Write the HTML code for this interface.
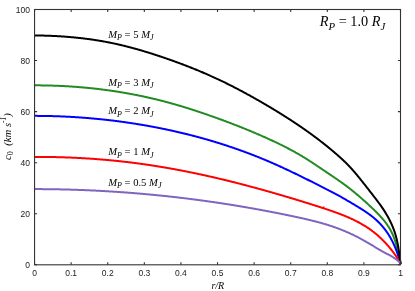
<!DOCTYPE html>
<html><head><meta charset="utf-8"><style>
html,body{margin:0;padding:0;background:#fff;}
body{width:415px;height:291px;overflow:hidden;font-family:"Liberation Sans",sans-serif;}
#w{position:absolute;left:0;top:0;width:415px;height:291px;will-change:transform;}
svg{display:block}
text{white-space:pre}
</style></head><body><div id="w">
<svg width="415" height="291" viewBox="0 0 415 291">
<defs><clipPath id="cp"><rect x="34.349999999999994" y="9.5" width="368.95" height="255.9"/></clipPath></defs><g clip-path="url(#cp)">
<path d="M34.50,85.35 L34.80,85.35 L35.36,85.35 L35.93,85.35 L36.50,85.35 L37.06,85.35 L37.63,85.35 L38.20,85.36 L38.76,85.36 L39.33,85.36 L39.89,85.37 L40.46,85.37 L41.03,85.38 L41.59,85.39 L42.16,85.39 L42.72,85.40 L43.29,85.41 L43.86,85.42 L44.42,85.43 L44.99,85.43 L45.56,85.45 L46.12,85.46 L46.69,85.47 L47.25,85.48 L47.82,85.49 L48.39,85.51 L48.95,85.52 L49.52,85.53 L50.08,85.55 L50.65,85.56 L51.22,85.58 L51.78,85.60 L52.35,85.61 L52.91,85.63 L53.48,85.65 L54.04,85.67 L54.61,85.69 L55.18,85.71 L55.74,85.73 L56.31,85.75 L56.87,85.77 L57.44,85.79 L58.00,85.82 L58.57,85.84 L59.14,85.87 L59.70,85.89 L60.27,85.92 L60.83,85.94 L61.40,85.97 L61.96,86.00 L62.53,86.02 L63.09,86.05 L63.66,86.08 L64.22,86.11 L64.79,86.14 L65.35,86.17 L65.92,86.20 L66.49,86.24 L67.05,86.27 L67.62,86.30 L68.18,86.34 L68.75,86.37 L69.31,86.41 L69.88,86.44 L70.44,86.48 L71.00,86.51 L71.57,86.55 L72.13,86.59 L72.70,86.63 L73.26,86.67 L73.83,86.71 L74.39,86.75 L74.96,86.79 L75.52,86.83 L76.09,86.87 L76.65,86.91 L77.21,86.96 L77.78,87.00 L78.34,87.05 L78.91,87.09 L79.47,87.14 L80.03,87.18 L80.60,87.23 L81.16,87.28 L81.73,87.33 L82.29,87.38 L82.85,87.43 L83.42,87.48 L83.98,87.53 L84.54,87.58 L85.11,87.63 L85.67,87.68 L86.23,87.74 L86.80,87.79 L87.36,87.84 L87.92,87.90 L88.49,87.95 L89.05,88.01 L89.61,88.07 L90.18,88.13 L90.74,88.18 L91.30,88.24 L91.86,88.30 L92.43,88.36 L92.99,88.42 L93.55,88.48 L94.11,88.54 L94.68,88.61 L95.24,88.67 L95.80,88.73 L96.36,88.80 L96.92,88.86 L97.49,88.93 L98.05,88.99 L98.61,89.06 L99.17,89.13 L99.73,89.20 L100.29,89.26 L100.86,89.33 L101.42,89.40 L101.98,89.47 L102.54,89.55 L103.10,89.62 L103.66,89.69 L104.22,89.76 L104.78,89.84 L105.34,89.91 L105.90,89.98 L106.47,90.06 L107.03,90.14 L107.59,90.21 L108.15,90.29 L108.71,90.37 L109.27,90.45 L109.83,90.53 L110.39,90.61 L110.95,90.69 L111.51,90.77 L112.07,90.85 L112.62,90.93 L113.18,91.01 L113.74,91.10 L114.30,91.18 L114.86,91.27 L115.42,91.35 L115.98,91.44 L116.54,91.53 L117.10,91.61 L117.66,91.70 L118.21,91.79 L118.77,91.88 L119.33,91.97 L119.89,92.06 L120.45,92.15 L121.00,92.24 L121.56,92.34 L122.12,92.43 L122.68,92.52 L123.23,92.62 L123.79,92.71 L124.35,92.81 L124.91,92.90 L125.46,93.00 L126.02,93.10 L126.58,93.20 L127.13,93.30 L127.69,93.40 L128.25,93.50 L128.80,93.60 L129.36,93.70 L129.91,93.80 L130.47,93.90 L131.03,94.01 L131.58,94.11 L132.14,94.22 L132.69,94.32 L133.25,94.43 L133.80,94.53 L134.36,94.64 L134.91,94.75 L135.47,94.86 L136.02,94.97 L136.58,95.08 L137.13,95.19 L137.69,95.30 L138.24,95.41 L138.79,95.52 L139.35,95.64 L139.90,95.75 L140.46,95.86 L141.01,95.98 L141.56,96.09 L142.12,96.21 L142.67,96.33 L143.22,96.45 L143.77,96.56 L144.33,96.68 L144.88,96.80 L145.43,96.92 L145.98,97.04 L146.54,97.17 L147.09,97.29 L147.64,97.41 L148.19,97.53 L148.74,97.66 L149.29,97.78 L149.84,97.91 L150.40,98.04 L150.95,98.16 L151.50,98.29 L152.05,98.42 L152.60,98.55 L153.15,98.68 L153.70,98.81 L154.25,98.94 L154.80,99.07 L155.35,99.20 L155.90,99.33 L156.45,99.47 L157.00,99.60 L157.55,99.74 L158.09,99.87 L158.64,100.01 L159.19,100.15 L159.74,100.28 L160.29,100.42 L160.84,100.56 L161.38,100.70 L161.93,100.84 L162.48,100.98 L163.03,101.12 L163.57,101.26 L164.12,101.41 L164.67,101.55 L165.21,101.69 L165.76,101.84 L166.31,101.99 L166.85,102.13 L167.40,102.28 L167.95,102.43 L168.49,102.57 L169.04,102.72 L169.58,102.87 L170.13,103.02 L170.67,103.17 L171.22,103.32 L171.76,103.48 L172.31,103.63 L172.85,103.78 L173.39,103.94 L173.94,104.09 L174.48,104.24 L175.03,104.40 L175.57,104.56 L176.11,104.71 L176.66,104.87 L177.20,105.03 L177.74,105.19 L178.29,105.35 L178.83,105.51 L179.37,105.67 L179.91,105.83 L180.46,105.99 L181.00,106.15 L181.54,106.31 L182.08,106.48 L182.62,106.64 L183.16,106.80 L183.71,106.97 L184.25,107.13 L184.79,107.30 L185.33,107.47 L185.87,107.63 L186.41,107.80 L186.95,107.97 L187.49,108.14 L188.03,108.31 L188.57,108.48 L189.11,108.65 L189.65,108.82 L190.19,108.99 L190.73,109.16 L191.27,109.33 L191.81,109.50 L192.35,109.68 L192.88,109.85 L193.42,110.02 L193.96,110.20 L194.50,110.37 L195.04,110.55 L195.58,110.73 L196.11,110.90 L196.65,111.08 L197.19,111.26 L197.73,111.43 L198.26,111.61 L198.80,111.79 L199.34,111.97 L199.87,112.15 L200.41,112.33 L200.95,112.51 L201.48,112.69 L202.02,112.87 L202.56,113.05 L203.09,113.24 L203.63,113.42 L204.16,113.60 L204.70,113.79 L205.24,113.97 L205.77,114.15 L206.31,114.34 L206.84,114.52 L207.38,114.71 L207.91,114.89 L208.45,115.08 L208.98,115.27 L209.52,115.45 L210.05,115.64 L210.58,115.83 L211.12,116.02 L211.65,116.21 L212.19,116.39 L212.72,116.58 L213.25,116.77 L213.79,116.96 L214.32,117.15 L214.85,117.34 L215.39,117.53 L215.92,117.73 L216.45,117.92 L216.98,118.11 L217.52,118.30 L218.05,118.49 L218.58,118.69 L219.11,118.88 L219.64,119.07 L220.18,119.27 L220.71,119.46 L221.24,119.66 L221.77,119.85 L222.30,120.05 L222.83,120.24 L223.36,120.44 L223.90,120.64 L224.43,120.83 L224.96,121.03 L225.49,121.23 L226.02,121.43 L226.55,121.62 L227.08,121.82 L227.61,122.02 L228.14,122.22 L228.67,122.42 L229.20,122.62 L229.72,122.82 L230.25,123.02 L230.78,123.22 L231.31,123.43 L231.84,123.63 L232.37,123.83 L232.90,124.03 L233.42,124.24 L233.95,124.44 L234.48,124.65 L235.01,124.85 L235.54,125.06 L236.06,125.26 L236.59,125.47 L237.12,125.67 L237.64,125.88 L238.17,126.09 L238.70,126.29 L239.22,126.50 L239.75,126.71 L240.27,126.92 L240.80,127.13 L241.33,127.34 L241.85,127.55 L242.38,127.76 L242.90,127.97 L243.43,128.18 L243.95,128.39 L244.47,128.60 L245.00,128.81 L245.52,129.03 L246.05,129.24 L246.57,129.45 L247.09,129.67 L247.62,129.88 L248.14,130.10 L248.66,130.31 L249.19,130.53 L249.71,130.75 L250.23,130.96 L250.75,131.18 L251.27,131.40 L251.80,131.62 L252.32,131.84 L252.84,132.06 L253.36,132.28 L253.88,132.50 L254.40,132.72 L254.92,132.94 L255.44,133.16 L255.96,133.38 L256.48,133.60 L257.00,133.83 L257.52,134.05 L258.04,134.27 L258.56,134.50 L259.08,134.72 L259.60,134.95 L260.11,135.18 L260.63,135.40 L261.15,135.63 L261.67,135.86 L262.19,136.08 L262.70,136.31 L263.22,136.54 L263.74,136.77 L264.25,137.00 L264.77,137.23 L265.29,137.46 L265.80,137.69 L266.32,137.93 L266.83,138.16 L267.35,138.39 L267.86,138.62 L268.38,138.86 L268.89,139.09 L269.41,139.33 L269.92,139.56 L270.43,139.80 L270.95,140.04 L271.46,140.27 L271.97,140.51 L272.48,140.75 L273.00,140.99 L273.51,141.23 L274.02,141.47 L274.53,141.71 L275.04,141.95 L275.55,142.19 L276.06,142.44 L276.57,142.68 L277.08,142.93 L277.59,143.17 L278.10,143.42 L278.61,143.66 L279.12,143.91 L279.63,144.16 L280.13,144.41 L280.64,144.65 L281.15,144.90 L281.65,145.15 L282.16,145.41 L282.67,145.66 L283.17,145.91 L283.68,146.17 L284.18,146.42 L284.68,146.68 L285.19,146.93 L285.69,147.19 L286.19,147.45 L286.70,147.71 L287.20,147.96 L287.70,148.23 L288.20,148.49 L288.70,148.75 L289.20,149.01 L289.70,149.28 L290.20,149.54 L290.70,149.81 L291.20,150.07 L291.69,150.34 L292.19,150.61 L292.69,150.88 L293.18,151.15 L293.68,151.42 L294.17,151.69 L294.67,151.97 L295.16,152.24 L295.65,152.52 L296.15,152.79 L296.64,153.07 L297.13,153.35 L297.62,153.63 L298.11,153.91 L298.60,154.19 L299.09,154.47 L299.58,154.76 L300.07,155.04 L300.55,155.33 L301.04,155.62 L301.53,155.90 L302.01,156.19 L302.50,156.48 L302.98,156.78 L303.47,157.07 L303.95,157.36 L304.43,157.66 L304.91,157.95 L305.39,158.25 L305.87,158.55 L306.35,158.85 L306.83,159.15 L307.31,159.45 L307.79,159.76 L308.27,160.06 L308.74,160.36 L309.22,160.67 L309.70,160.98 L310.17,161.28 L310.65,161.59 L311.12,161.90 L311.60,162.21 L312.07,162.52 L312.54,162.83 L313.02,163.14 L313.49,163.46 L313.96,163.77 L314.43,164.08 L314.91,164.40 L315.38,164.71 L315.85,165.02 L316.32,165.34 L316.79,165.66 L317.26,165.97 L317.73,166.29 L318.20,166.60 L318.67,166.92 L319.14,167.24 L319.61,167.55 L320.08,167.87 L320.55,168.19 L321.02,168.50 L321.49,168.82 L321.96,169.14 L322.43,169.46 L322.90,169.77 L323.37,170.09 L323.84,170.41 L324.31,170.72 L324.78,171.04 L325.25,171.35 L325.72,171.67 L326.19,171.99 L326.66,172.30 L327.14,172.62 L327.61,172.93 L328.08,173.25 L328.55,173.56 L329.02,173.88 L329.49,174.19 L329.96,174.51 L330.43,174.83 L330.90,175.14 L331.37,175.46 L331.84,175.77 L332.30,176.09 L332.77,176.41 L333.24,176.72 L333.71,177.04 L334.18,177.36 L334.65,177.68 L335.11,178.00 L335.58,178.31 L336.05,178.63 L336.51,178.95 L336.98,179.27 L337.44,179.60 L337.91,179.92 L338.37,180.24 L338.83,180.56 L339.30,180.89 L339.76,181.21 L340.22,181.53 L340.68,181.86 L341.14,182.19 L341.60,182.51 L342.06,182.84 L342.52,183.17 L342.98,183.50 L343.43,183.83 L343.89,184.16 L344.34,184.50 L344.80,184.83 L345.25,185.16 L345.70,185.50 L346.16,185.84 L346.61,186.17 L347.06,186.51 L347.50,186.85 L347.95,187.20 L348.40,187.54 L348.85,187.88 L349.29,188.23 L349.73,188.57 L350.18,188.92 L350.62,189.27 L351.06,189.62 L351.50,189.97 L351.94,190.33 L352.37,190.68 L352.81,191.03 L353.25,191.39 L353.68,191.75 L354.12,192.11 L354.55,192.47 L354.99,192.83 L355.42,193.19 L355.85,193.55 L356.28,193.91 L356.71,194.27 L357.15,194.64 L357.58,195.00 L358.00,195.37 L358.43,195.74 L358.86,196.10 L359.29,196.47 L359.72,196.84 L360.15,197.21 L360.57,197.58 L361.00,197.95 L361.43,198.32 L361.85,198.70 L362.28,199.07 L362.70,199.44 L363.13,199.82 L363.55,200.19 L363.98,200.57 L364.40,200.95 L364.82,201.32 L365.25,201.70 L365.67,202.08 L366.09,202.46 L366.51,202.84 L366.93,203.22 L367.35,203.60 L367.77,203.99 L368.19,204.37 L368.61,204.75 L369.02,205.14 L369.44,205.52 L369.86,205.91 L370.27,206.30 L370.69,206.69 L371.10,207.07 L371.52,207.46 L371.93,207.85 L372.34,208.24 L372.76,208.64 L373.17,209.03 L373.58,209.42 L373.99,209.82 L374.39,210.21 L374.80,210.61 L375.21,211.01 L375.61,211.41 L376.01,211.81 L376.41,212.21 L376.81,212.61 L377.21,213.02 L377.61,213.42 L378.00,213.83 L378.39,214.24 L378.78,214.65 L379.17,215.06 L379.56,215.47 L379.94,215.88 L380.33,216.30 L380.70,216.72 L381.08,217.14 L381.46,217.56 L381.83,217.98 L382.20,218.41 L382.56,218.83 L382.93,219.26 L383.29,219.69 L383.64,220.12 L384.00,220.56 L384.35,220.99 L384.70,221.43 L385.04,221.87 L385.38,222.32 L385.72,222.76 L386.05,223.21 L386.38,223.66 L386.71,224.11 L387.03,224.57 L387.35,225.02 L387.67,225.48 L387.98,225.94 L388.29,226.41 L388.59,226.88 L388.89,227.35 L389.18,227.82 L389.47,228.29 L389.76,228.77 L390.04,229.25 L390.31,229.73 L390.58,230.22 L390.85,230.71 L391.11,231.20 L391.37,231.70 L391.62,232.20 L391.86,232.70 L392.10,233.20 L392.34,233.71 L392.57,234.22 L392.80,234.73 L393.02,235.25 L393.23,235.77 L393.45,236.29 L393.65,236.81 L393.86,237.34 L394.05,237.87 L394.25,238.40 L394.44,238.93 L394.62,239.47 L394.81,240.01 L394.99,240.55 L395.16,241.09 L395.33,241.63 L395.50,242.17 L395.67,242.72 L395.83,243.27 L395.99,243.82 L396.14,244.37 L396.29,244.92 L396.45,245.47 L396.59,246.02 L396.74,246.58 L396.88,247.13 L397.02,247.69 L397.16,248.25 L397.30,248.80 L397.43,249.36 L397.56,249.92 L397.69,250.48 L397.82,251.04 L397.95,251.60 L398.08,252.15 L398.20,252.71 L398.33,253.27 L398.45,253.83 L398.57,254.39 L398.70,254.95 L398.82,255.50 L398.94,256.06 L399.06,256.62 L399.18,257.17 L399.30,257.72 L399.41,258.28 L399.53,258.83 L399.65,259.38 L399.77,259.93 L399.89,260.48 L400.01,261.03 L400.13,261.57 L400.25,262.12 L400.38,262.66 L400.50,263.20" fill="none" stroke="#228b22" stroke-width="2.0" stroke-linejoin="round" stroke-linecap="square"/>
<path d="M34.50,115.87 L34.92,115.87 L35.46,115.87 L36.01,115.87 L36.56,115.87 L37.10,115.87 L37.65,115.88 L38.20,115.88 L38.74,115.88 L39.29,115.89 L39.83,115.89 L40.38,115.90 L40.93,115.90 L41.47,115.91 L42.02,115.91 L42.57,115.92 L43.11,115.93 L43.66,115.93 L44.20,115.94 L44.75,115.95 L45.30,115.96 L45.84,115.97 L46.39,115.98 L46.93,115.99 L47.48,116.00 L48.03,116.01 L48.57,116.02 L49.12,116.04 L49.67,116.05 L50.21,116.06 L50.76,116.07 L51.30,116.09 L51.85,116.10 L52.40,116.12 L52.94,116.13 L53.49,116.15 L54.03,116.16 L54.58,116.18 L55.13,116.20 L55.67,116.22 L56.22,116.23 L56.76,116.25 L57.31,116.27 L57.86,116.29 L58.40,116.31 L58.95,116.33 L59.49,116.35 L60.04,116.37 L60.59,116.39 L61.13,116.42 L61.68,116.44 L62.22,116.46 L62.77,116.49 L63.31,116.51 L63.86,116.53 L64.41,116.56 L64.95,116.58 L65.50,116.61 L66.04,116.64 L66.59,116.66 L67.13,116.69 L67.68,116.72 L68.23,116.75 L68.77,116.77 L69.32,116.80 L69.86,116.83 L70.41,116.86 L70.95,116.89 L71.50,116.92 L72.04,116.95 L72.59,116.99 L73.13,117.02 L73.68,117.05 L74.22,117.08 L74.77,117.12 L75.32,117.15 L75.86,117.19 L76.41,117.22 L76.95,117.26 L77.50,117.29 L78.04,117.33 L78.59,117.36 L79.13,117.40 L79.68,117.44 L80.22,117.48 L80.77,117.52 L81.31,117.56 L81.86,117.59 L82.40,117.63 L82.94,117.68 L83.49,117.72 L84.03,117.76 L84.58,117.80 L85.12,117.84 L85.67,117.88 L86.21,117.93 L86.76,117.97 L87.30,118.01 L87.85,118.06 L88.39,118.10 L88.93,118.15 L89.48,118.20 L90.02,118.24 L90.57,118.29 L91.11,118.34 L91.66,118.38 L92.20,118.43 L92.74,118.48 L93.29,118.53 L93.83,118.58 L94.38,118.63 L94.92,118.68 L95.46,118.73 L96.01,118.78 L96.55,118.83 L97.09,118.89 L97.64,118.94 L98.18,118.99 L98.72,119.05 L99.27,119.10 L99.81,119.16 L100.36,119.21 L100.90,119.27 L101.44,119.32 L101.99,119.38 L102.53,119.44 L103.07,119.49 L103.61,119.55 L104.16,119.61 L104.70,119.67 L105.24,119.73 L105.79,119.79 L106.33,119.85 L106.87,119.91 L107.41,119.97 L107.96,120.03 L108.50,120.09 L109.04,120.15 L109.58,120.22 L110.13,120.28 L110.67,120.35 L111.21,120.41 L111.75,120.47 L112.30,120.54 L112.84,120.61 L113.38,120.67 L113.92,120.74 L114.46,120.81 L115.01,120.87 L115.55,120.94 L116.09,121.01 L116.63,121.08 L117.17,121.15 L117.72,121.22 L118.26,121.29 L118.80,121.36 L119.34,121.43 L119.88,121.50 L120.42,121.58 L120.96,121.65 L121.51,121.72 L122.05,121.80 L122.59,121.87 L123.13,121.94 L123.67,122.02 L124.21,122.09 L124.75,122.17 L125.29,122.25 L125.83,122.32 L126.37,122.40 L126.91,122.48 L127.45,122.56 L127.99,122.64 L128.53,122.72 L129.07,122.80 L129.61,122.88 L130.16,122.96 L130.70,123.04 L131.24,123.12 L131.77,123.20 L132.31,123.28 L132.85,123.37 L133.39,123.45 L133.93,123.53 L134.47,123.62 L135.01,123.70 L135.55,123.79 L136.09,123.88 L136.63,123.96 L137.17,124.05 L137.71,124.14 L138.25,124.22 L138.79,124.31 L139.33,124.40 L139.86,124.49 L140.40,124.58 L140.94,124.67 L141.48,124.76 L142.02,124.85 L142.56,124.94 L143.10,125.03 L143.63,125.13 L144.17,125.22 L144.71,125.31 L145.25,125.41 L145.79,125.50 L146.32,125.60 L146.86,125.69 L147.40,125.79 L147.94,125.88 L148.47,125.98 L149.01,126.08 L149.55,126.17 L150.09,126.27 L150.62,126.37 L151.16,126.47 L151.70,126.57 L152.23,126.67 L152.77,126.77 L153.31,126.87 L153.84,126.97 L154.38,127.07 L154.92,127.18 L155.45,127.28 L155.99,127.38 L156.52,127.49 L157.06,127.59 L157.60,127.70 L158.13,127.80 L158.67,127.91 L159.20,128.01 L159.74,128.12 L160.28,128.23 L160.81,128.33 L161.35,128.44 L161.88,128.55 L162.42,128.66 L162.95,128.77 L163.49,128.88 L164.02,128.99 L164.56,129.10 L165.09,129.21 L165.62,129.32 L166.16,129.44 L166.69,129.55 L167.23,129.66 L167.76,129.78 L168.30,129.89 L168.83,130.00 L169.36,130.12 L169.90,130.24 L170.43,130.35 L170.96,130.47 L171.50,130.59 L172.03,130.70 L172.56,130.82 L173.10,130.94 L173.63,131.06 L174.16,131.18 L174.70,131.30 L175.23,131.42 L175.76,131.54 L176.29,131.66 L176.83,131.78 L177.36,131.91 L177.89,132.03 L178.42,132.15 L178.95,132.28 L179.49,132.40 L180.02,132.53 L180.55,132.65 L181.08,132.78 L181.61,132.90 L182.14,133.03 L182.67,133.16 L183.20,133.28 L183.74,133.41 L184.27,133.54 L184.80,133.67 L185.33,133.80 L185.86,133.93 L186.39,134.06 L186.92,134.19 L187.45,134.32 L187.98,134.46 L188.51,134.59 L189.04,134.72 L189.57,134.86 L190.10,134.99 L190.63,135.13 L191.15,135.26 L191.68,135.40 L192.21,135.53 L192.74,135.67 L193.27,135.81 L193.80,135.94 L194.33,136.08 L194.85,136.22 L195.38,136.36 L195.91,136.50 L196.44,136.64 L196.97,136.78 L197.49,136.92 L198.02,137.06 L198.55,137.21 L199.07,137.35 L199.60,137.49 L200.13,137.64 L200.65,137.78 L201.18,137.93 L201.71,138.07 L202.23,138.22 L202.76,138.36 L203.29,138.51 L203.81,138.66 L204.34,138.80 L204.86,138.95 L205.39,139.10 L205.91,139.25 L206.44,139.40 L206.96,139.55 L207.49,139.70 L208.01,139.85 L208.54,140.01 L209.06,140.16 L209.59,140.31 L210.11,140.46 L210.63,140.62 L211.16,140.77 L211.68,140.93 L212.20,141.08 L212.73,141.24 L213.25,141.40 L213.77,141.55 L214.30,141.71 L214.82,141.87 L215.34,142.03 L215.86,142.19 L216.39,142.35 L216.91,142.51 L217.43,142.67 L217.95,142.83 L218.47,142.99 L218.99,143.15 L219.51,143.31 L220.04,143.48 L220.56,143.64 L221.08,143.81 L221.60,143.97 L222.12,144.14 L222.64,144.30 L223.16,144.47 L223.68,144.63 L224.20,144.80 L224.72,144.97 L225.24,145.14 L225.76,145.31 L226.27,145.48 L226.79,145.65 L227.31,145.82 L227.83,145.99 L228.35,146.16 L228.87,146.33 L229.38,146.51 L229.90,146.68 L230.42,146.85 L230.94,147.03 L231.45,147.20 L231.97,147.38 L232.49,147.55 L233.00,147.73 L233.52,147.91 L234.04,148.08 L234.55,148.26 L235.07,148.44 L235.59,148.62 L236.10,148.80 L236.62,148.98 L237.13,149.16 L237.65,149.34 L238.16,149.52 L238.68,149.71 L239.19,149.89 L239.70,150.07 L240.22,150.26 L240.73,150.44 L241.25,150.63 L241.76,150.81 L242.27,151.00 L242.79,151.18 L243.30,151.37 L243.81,151.56 L244.32,151.75 L244.84,151.94 L245.35,152.13 L245.86,152.32 L246.37,152.51 L246.88,152.70 L247.40,152.89 L247.91,153.08 L248.42,153.27 L248.93,153.47 L249.44,153.66 L249.95,153.86 L250.46,154.05 L250.97,154.25 L251.48,154.44 L251.99,154.64 L252.50,154.84 L253.01,155.03 L253.52,155.23 L254.03,155.43 L254.53,155.63 L255.04,155.83 L255.55,156.03 L256.06,156.23 L256.57,156.43 L257.07,156.63 L257.58,156.84 L258.09,157.04 L258.59,157.24 L259.10,157.45 L259.61,157.65 L260.11,157.86 L260.62,158.06 L261.13,158.27 L261.63,158.48 L262.14,158.68 L262.64,158.89 L263.15,159.10 L263.65,159.31 L264.16,159.52 L264.66,159.73 L265.16,159.94 L265.67,160.15 L266.17,160.37 L266.67,160.58 L267.18,160.79 L267.68,161.01 L268.18,161.22 L268.69,161.43 L269.19,161.65 L269.69,161.87 L270.19,162.08 L270.69,162.30 L271.19,162.52 L271.70,162.74 L272.20,162.95 L272.70,163.17 L273.20,163.39 L273.70,163.61 L274.20,163.83 L274.70,164.06 L275.20,164.28 L275.70,164.50 L276.20,164.72 L276.70,164.95 L277.19,165.17 L277.69,165.39 L278.19,165.62 L278.69,165.84 L279.19,166.07 L279.69,166.29 L280.18,166.52 L280.68,166.75 L281.18,166.98 L281.68,167.20 L282.17,167.43 L282.67,167.66 L283.17,167.89 L283.66,168.12 L284.16,168.35 L284.65,168.58 L285.15,168.81 L285.65,169.04 L286.14,169.27 L286.64,169.50 L287.13,169.74 L287.63,169.97 L288.12,170.20 L288.62,170.43 L289.11,170.67 L289.60,170.90 L290.10,171.14 L290.59,171.37 L291.09,171.61 L291.58,171.84 L292.07,172.08 L292.57,172.31 L293.06,172.55 L293.55,172.79 L294.04,173.02 L294.54,173.26 L295.03,173.50 L295.52,173.74 L296.01,173.97 L296.51,174.21 L297.00,174.45 L297.49,174.69 L297.98,174.93 L298.47,175.17 L298.96,175.41 L299.45,175.65 L299.95,175.89 L300.44,176.13 L300.93,176.37 L301.42,176.61 L301.91,176.85 L302.40,177.09 L302.89,177.34 L303.38,177.58 L303.87,177.82 L304.36,178.06 L304.85,178.30 L305.34,178.55 L305.83,178.79 L306.31,179.03 L306.80,179.28 L307.29,179.52 L307.78,179.76 L308.27,180.01 L308.76,180.25 L309.25,180.49 L309.74,180.74 L310.22,180.98 L310.71,181.23 L311.20,181.47 L311.69,181.72 L312.18,181.96 L312.66,182.21 L313.15,182.45 L313.64,182.70 L314.13,182.94 L314.61,183.19 L315.10,183.43 L315.59,183.68 L316.07,183.92 L316.56,184.17 L317.05,184.42 L317.53,184.66 L318.02,184.91 L318.51,185.15 L318.99,185.40 L319.48,185.65 L319.97,185.89 L320.45,186.14 L320.94,186.38 L321.42,186.63 L321.91,186.88 L322.40,187.12 L322.88,187.37 L323.37,187.61 L323.85,187.86 L324.34,188.11 L324.82,188.35 L325.31,188.60 L325.79,188.85 L326.28,189.09 L326.76,189.34 L327.25,189.58 L327.73,189.83 L328.22,190.08 L328.70,190.33 L329.19,190.57 L329.67,190.82 L330.15,191.07 L330.64,191.32 L331.12,191.57 L331.60,191.82 L332.08,192.07 L332.57,192.32 L333.05,192.57 L333.53,192.82 L334.01,193.07 L334.49,193.33 L334.97,193.58 L335.45,193.84 L335.93,194.09 L336.41,194.35 L336.88,194.61 L337.36,194.87 L337.84,195.13 L338.31,195.39 L338.79,195.65 L339.26,195.92 L339.74,196.18 L340.21,196.45 L340.69,196.71 L341.16,196.98 L341.63,197.25 L342.10,197.52 L342.58,197.79 L343.05,198.06 L343.52,198.33 L343.99,198.60 L344.46,198.87 L344.94,199.15 L345.41,199.42 L345.88,199.70 L346.35,199.97 L346.82,200.25 L347.29,200.52 L347.76,200.80 L348.23,201.08 L348.70,201.36 L349.17,201.63 L349.65,201.91 L350.12,202.19 L350.59,202.47 L351.06,202.75 L351.53,203.03 L352.00,203.31 L352.48,203.59 L352.95,203.87 L353.42,204.15 L353.90,204.44 L354.37,204.72 L354.84,205.00 L355.32,205.28 L355.79,205.57 L356.26,205.85 L356.73,206.14 L357.21,206.42 L357.68,206.71 L358.15,207.00 L358.62,207.28 L359.09,207.57 L359.56,207.86 L360.03,208.15 L360.50,208.45 L360.97,208.74 L361.43,209.03 L361.90,209.33 L362.37,209.62 L362.83,209.92 L363.29,210.22 L363.76,210.52 L364.22,210.82 L364.68,211.13 L365.13,211.43 L365.59,211.74 L366.05,212.05 L366.50,212.36 L366.95,212.67 L367.40,212.99 L367.85,213.30 L368.30,213.62 L368.74,213.94 L369.19,214.26 L369.63,214.58 L370.07,214.91 L370.50,215.24 L370.94,215.57 L371.37,215.90 L371.80,216.23 L372.23,216.57 L372.66,216.91 L373.08,217.25 L373.50,217.60 L373.92,217.94 L374.34,218.29 L374.75,218.64 L375.16,219.00 L375.57,219.36 L375.97,219.72 L376.37,220.08 L376.77,220.44 L377.17,220.81 L377.56,221.19 L377.95,221.56 L378.34,221.94 L378.72,222.32 L379.10,222.70 L379.48,223.09 L379.85,223.48 L380.22,223.87 L380.59,224.27 L380.96,224.66 L381.32,225.06 L381.68,225.47 L382.03,225.87 L382.38,226.28 L382.73,226.69 L383.08,227.11 L383.42,227.52 L383.76,227.94 L384.10,228.36 L384.43,228.79 L384.76,229.22 L385.09,229.65 L385.42,230.08 L385.74,230.51 L386.06,230.95 L386.37,231.39 L386.68,231.83 L386.99,232.27 L387.30,232.72 L387.60,233.17 L387.90,233.62 L388.19,234.07 L388.49,234.53 L388.78,234.99 L389.06,235.45 L389.35,235.91 L389.63,236.37 L389.91,236.84 L390.18,237.31 L390.45,237.78 L390.72,238.25 L390.99,238.73 L391.25,239.20 L391.51,239.68 L391.76,240.16 L392.01,240.65 L392.26,241.13 L392.51,241.62 L392.75,242.11 L392.99,242.60 L393.23,243.09 L393.46,243.59 L393.69,244.08 L393.92,244.58 L394.15,245.08 L394.37,245.58 L394.59,246.09 L394.80,246.59 L395.01,247.10 L395.22,247.60 L395.43,248.11 L395.63,248.63 L395.83,249.14 L396.03,249.65 L396.23,250.16 L396.42,250.68 L396.61,251.20 L396.80,251.71 L396.99,252.23 L397.17,252.75 L397.35,253.27 L397.53,253.79 L397.71,254.31 L397.89,254.84 L398.06,255.36 L398.23,255.88 L398.41,256.40 L398.57,256.93 L398.74,257.45 L398.91,257.97 L399.07,258.50 L399.24,259.02 L399.40,259.54 L399.56,260.07 L399.72,260.59 L399.88,261.11 L400.03,261.64 L400.19,262.16 L400.34,262.68 L400.50,263.20" fill="none" stroke="#0000ff" stroke-width="2.0" stroke-linejoin="round" stroke-linecap="square"/>
<path d="M34.50,156.89 L34.74,156.89 L35.26,156.89 L35.78,156.89 L36.31,156.89 L36.83,156.89 L37.35,156.89 L37.88,156.89 L38.40,156.89 L38.92,156.89 L39.45,156.89 L39.97,156.89 L40.49,156.90 L41.01,156.90 L41.54,156.90 L42.06,156.91 L42.58,156.91 L43.11,156.91 L43.63,156.92 L44.15,156.92 L44.67,156.93 L45.20,156.93 L45.72,156.94 L46.24,156.94 L46.77,156.95 L47.29,156.96 L47.81,156.96 L48.33,156.97 L48.86,156.98 L49.38,156.99 L49.90,156.99 L50.43,157.00 L50.95,157.01 L51.47,157.02 L51.99,157.03 L52.52,157.04 L53.04,157.05 L53.56,157.06 L54.09,157.07 L54.61,157.08 L55.13,157.10 L55.65,157.11 L56.18,157.12 L56.70,157.13 L57.22,157.15 L57.74,157.16 L58.27,157.17 L58.79,157.19 L59.31,157.20 L59.84,157.21 L60.36,157.23 L60.88,157.25 L61.40,157.26 L61.93,157.28 L62.45,157.29 L62.97,157.31 L63.49,157.33 L64.02,157.34 L64.54,157.36 L65.06,157.38 L65.58,157.40 L66.11,157.42 L66.63,157.44 L67.15,157.46 L67.67,157.47 L68.20,157.50 L68.72,157.52 L69.24,157.54 L69.76,157.56 L70.29,157.58 L70.81,157.60 L71.33,157.62 L71.85,157.65 L72.38,157.67 L72.90,157.69 L73.42,157.71 L73.94,157.74 L74.46,157.76 L74.99,157.79 L75.51,157.81 L76.03,157.84 L76.55,157.86 L77.07,157.89 L77.60,157.92 L78.12,157.94 L78.64,157.97 L79.16,158.00 L79.69,158.02 L80.21,158.05 L80.73,158.08 L81.25,158.11 L81.77,158.14 L82.30,158.17 L82.82,158.20 L83.34,158.23 L83.86,158.26 L84.38,158.29 L84.90,158.32 L85.43,158.35 L85.95,158.38 L86.47,158.42 L86.99,158.45 L87.51,158.48 L88.03,158.52 L88.56,158.55 L89.08,158.58 L89.60,158.62 L90.12,158.65 L90.64,158.69 L91.16,158.72 L91.69,158.76 L92.21,158.79 L92.73,158.83 L93.25,158.87 L93.77,158.91 L94.29,158.94 L94.81,158.98 L95.33,159.02 L95.86,159.06 L96.38,159.10 L96.90,159.14 L97.42,159.18 L97.94,159.22 L98.46,159.26 L98.98,159.30 L99.50,159.34 L100.02,159.38 L100.55,159.42 L101.07,159.46 L101.59,159.51 L102.11,159.55 L102.63,159.59 L103.15,159.64 L103.67,159.68 L104.19,159.73 L104.71,159.77 L105.23,159.82 L105.75,159.86 L106.27,159.91 L106.79,159.95 L107.31,160.00 L107.83,160.05 L108.35,160.09 L108.88,160.14 L109.40,160.19 L109.92,160.24 L110.44,160.29 L110.96,160.34 L111.48,160.39 L112.00,160.44 L112.52,160.49 L113.04,160.54 L113.56,160.59 L114.08,160.64 L114.60,160.69 L115.12,160.74 L115.64,160.80 L116.16,160.85 L116.68,160.90 L117.20,160.96 L117.72,161.01 L118.23,161.07 L118.75,161.12 L119.27,161.18 L119.79,161.23 L120.31,161.29 L120.83,161.34 L121.35,161.40 L121.87,161.46 L122.39,161.51 L122.91,161.57 L123.43,161.63 L123.95,161.69 L124.47,161.75 L124.99,161.81 L125.50,161.87 L126.02,161.93 L126.54,161.99 L127.06,162.05 L127.58,162.11 L128.10,162.17 L128.62,162.23 L129.14,162.30 L129.65,162.36 L130.17,162.42 L130.69,162.48 L131.21,162.55 L131.73,162.61 L132.25,162.68 L132.77,162.74 L133.28,162.81 L133.80,162.87 L134.32,162.94 L134.84,163.01 L135.36,163.07 L135.87,163.14 L136.39,163.21 L136.91,163.28 L137.43,163.34 L137.95,163.41 L138.46,163.48 L138.98,163.55 L139.50,163.62 L140.02,163.69 L140.53,163.76 L141.05,163.83 L141.57,163.91 L142.09,163.98 L142.60,164.05 L143.12,164.12 L143.64,164.20 L144.15,164.27 L144.67,164.34 L145.19,164.42 L145.71,164.49 L146.22,164.57 L146.74,164.64 L147.26,164.72 L147.77,164.79 L148.29,164.87 L148.81,164.95 L149.32,165.02 L149.84,165.10 L150.36,165.18 L150.87,165.26 L151.39,165.34 L151.90,165.41 L152.42,165.49 L152.94,165.57 L153.45,165.65 L153.97,165.73 L154.49,165.81 L155.00,165.90 L155.52,165.98 L156.03,166.06 L156.55,166.14 L157.07,166.22 L157.58,166.31 L158.10,166.39 L158.61,166.47 L159.13,166.56 L159.64,166.64 L160.16,166.73 L160.67,166.81 L161.19,166.90 L161.70,166.98 L162.22,167.07 L162.73,167.15 L163.25,167.24 L163.76,167.33 L164.28,167.42 L164.79,167.50 L165.31,167.59 L165.82,167.68 L166.34,167.77 L166.85,167.86 L167.37,167.95 L167.88,168.04 L168.40,168.13 L168.91,168.22 L169.43,168.31 L169.94,168.40 L170.46,168.49 L170.97,168.58 L171.48,168.68 L172.00,168.77 L172.51,168.86 L173.03,168.96 L173.54,169.05 L174.05,169.14 L174.57,169.24 L175.08,169.33 L175.60,169.43 L176.11,169.52 L176.62,169.62 L177.14,169.71 L177.65,169.81 L178.16,169.91 L178.68,170.00 L179.19,170.10 L179.70,170.20 L180.22,170.30 L180.73,170.39 L181.24,170.49 L181.76,170.59 L182.27,170.69 L182.78,170.79 L183.29,170.89 L183.81,170.99 L184.32,171.09 L184.83,171.19 L185.35,171.29 L185.86,171.39 L186.37,171.49 L186.88,171.60 L187.40,171.70 L187.91,171.80 L188.42,171.90 L188.93,172.01 L189.45,172.11 L189.96,172.21 L190.47,172.32 L190.98,172.42 L191.49,172.53 L192.01,172.63 L192.52,172.74 L193.03,172.84 L193.54,172.95 L194.05,173.06 L194.56,173.16 L195.08,173.27 L195.59,173.38 L196.10,173.48 L196.61,173.59 L197.12,173.70 L197.63,173.81 L198.14,173.92 L198.65,174.03 L199.17,174.13 L199.68,174.24 L200.19,174.35 L200.70,174.46 L201.21,174.57 L201.72,174.68 L202.23,174.80 L202.74,174.91 L203.25,175.02 L203.76,175.13 L204.27,175.24 L204.78,175.35 L205.29,175.47 L205.81,175.58 L206.32,175.69 L206.83,175.81 L207.34,175.92 L207.85,176.04 L208.36,176.15 L208.87,176.26 L209.38,176.38 L209.89,176.49 L210.40,176.61 L210.91,176.73 L211.42,176.84 L211.93,176.96 L212.43,177.07 L212.94,177.19 L213.45,177.31 L213.96,177.43 L214.47,177.54 L214.98,177.66 L215.49,177.78 L216.00,177.90 L216.51,178.02 L217.02,178.14 L217.53,178.26 L218.04,178.38 L218.55,178.50 L219.05,178.62 L219.56,178.74 L220.07,178.86 L220.58,178.98 L221.09,179.10 L221.60,179.22 L222.11,179.34 L222.61,179.46 L223.12,179.59 L223.63,179.71 L224.14,179.83 L224.65,179.95 L225.16,180.08 L225.66,180.20 L226.17,180.32 L226.68,180.45 L227.19,180.57 L227.69,180.70 L228.20,180.82 L228.71,180.95 L229.22,181.07 L229.73,181.20 L230.23,181.32 L230.74,181.45 L231.25,181.57 L231.76,181.70 L232.26,181.83 L232.77,181.95 L233.28,182.08 L233.78,182.21 L234.29,182.34 L234.80,182.46 L235.30,182.59 L235.81,182.72 L236.32,182.85 L236.83,182.98 L237.33,183.11 L237.84,183.24 L238.35,183.37 L238.85,183.50 L239.36,183.63 L239.86,183.76 L240.37,183.89 L240.88,184.02 L241.38,184.15 L241.89,184.28 L242.40,184.41 L242.90,184.54 L243.41,184.68 L243.91,184.81 L244.42,184.94 L244.92,185.07 L245.43,185.21 L245.94,185.34 L246.44,185.47 L246.95,185.60 L247.45,185.74 L247.96,185.87 L248.46,186.01 L248.97,186.14 L249.47,186.28 L249.98,186.41 L250.48,186.54 L250.99,186.68 L251.49,186.82 L252.00,186.95 L252.50,187.09 L253.01,187.22 L253.51,187.36 L254.02,187.50 L254.52,187.63 L255.03,187.77 L255.53,187.91 L256.04,188.04 L256.54,188.18 L257.04,188.32 L257.55,188.46 L258.05,188.60 L258.56,188.73 L259.06,188.87 L259.56,189.01 L260.07,189.15 L260.57,189.29 L261.08,189.43 L261.58,189.57 L262.08,189.71 L262.59,189.85 L263.09,189.99 L263.59,190.13 L264.10,190.27 L264.60,190.41 L265.10,190.55 L265.61,190.69 L266.11,190.83 L266.61,190.97 L267.12,191.12 L267.62,191.26 L268.12,191.40 L268.63,191.54 L269.13,191.68 L269.63,191.83 L270.13,191.97 L270.64,192.11 L271.14,192.26 L271.64,192.40 L272.14,192.54 L272.65,192.69 L273.15,192.83 L273.65,192.97 L274.15,193.12 L274.65,193.26 L275.16,193.41 L275.66,193.55 L276.16,193.70 L276.66,193.84 L277.16,193.99 L277.67,194.13 L278.17,194.28 L278.67,194.43 L279.17,194.57 L279.67,194.72 L280.17,194.86 L280.67,195.01 L281.18,195.16 L281.68,195.30 L282.18,195.45 L282.68,195.60 L283.18,195.75 L283.68,195.89 L284.18,196.04 L284.68,196.19 L285.18,196.34 L285.68,196.49 L286.19,196.63 L286.69,196.78 L287.19,196.93 L287.69,197.08 L288.19,197.23 L288.69,197.38 L289.19,197.53 L289.69,197.68 L290.19,197.83 L290.69,197.98 L291.19,198.13 L291.69,198.28 L292.19,198.43 L292.69,198.58 L293.19,198.73 L293.69,198.88 L294.19,199.03 L294.69,199.18 L295.19,199.33 L295.68,199.48 L296.18,199.64 L296.68,199.79 L297.18,199.94 L297.68,200.09 L298.18,200.24 L298.68,200.40 L299.18,200.55 L299.68,200.70 L300.18,200.85 L300.68,201.01 L301.17,201.16 L301.67,201.31 L302.17,201.47 L302.67,201.62 L303.17,201.77 L303.67,201.93 L304.17,202.08 L304.66,202.24 L305.16,202.39 L305.66,202.55 L306.16,202.70 L306.66,202.86 L307.16,203.01 L307.65,203.17 L308.15,203.32 L308.65,203.48 L309.15,203.63 L309.65,203.79 L310.14,203.95 L310.64,204.10 L311.14,204.26 L311.64,204.42 L312.13,204.58 L312.63,204.73 L313.13,204.89 L313.63,205.05 L314.12,205.21 L314.62,205.37 L315.12,205.52 L315.62,205.68 L316.11,205.84 L316.61,206.00 L317.11,206.16 L317.61,206.32 L318.10,206.48 L318.60,206.64 L319.10,206.80 L319.59,206.96 L320.09,207.12 L320.59,207.29 L321.09,207.45 L321.58,207.61 L322.08,207.77 L322.58,207.93 L323.07,208.10 L323.57,208.26 L324.07,208.42 L324.56,208.59 L325.06,208.75 L325.56,208.91 L326.05,209.08 L326.55,209.25 L327.04,209.41 L327.54,209.58 L328.04,209.75 L328.53,209.91 L329.03,210.08 L329.52,210.25 L330.02,210.42 L330.51,210.59 L331.01,210.76 L331.50,210.93 L331.99,211.10 L332.49,211.28 L332.98,211.45 L333.47,211.62 L333.97,211.80 L334.46,211.97 L334.95,212.15 L335.45,212.33 L335.94,212.50 L336.43,212.68 L336.92,212.86 L337.41,213.04 L337.90,213.23 L338.39,213.41 L338.88,213.59 L339.37,213.78 L339.86,213.96 L340.35,214.15 L340.84,214.33 L341.33,214.52 L341.81,214.71 L342.30,214.90 L342.79,215.10 L343.27,215.29 L343.76,215.48 L344.24,215.68 L344.73,215.88 L345.21,216.07 L345.69,216.27 L346.18,216.47 L346.66,216.68 L347.14,216.88 L347.62,217.09 L348.10,217.29 L348.58,217.50 L349.06,217.71 L349.54,217.92 L350.01,218.13 L350.49,218.35 L350.96,218.56 L351.44,218.78 L351.91,219.00 L352.38,219.22 L352.86,219.44 L353.33,219.67 L353.80,219.89 L354.27,220.12 L354.74,220.35 L355.20,220.58 L355.67,220.81 L356.14,221.05 L356.60,221.29 L357.06,221.52 L357.53,221.77 L357.99,222.01 L358.45,222.25 L358.91,222.50 L359.37,222.75 L359.82,223.00 L360.28,223.25 L360.73,223.50 L361.19,223.76 L361.64,224.02 L362.09,224.28 L362.54,224.54 L362.99,224.80 L363.44,225.07 L363.88,225.34 L364.33,225.61 L364.77,225.88 L365.21,226.16 L365.65,226.43 L366.09,226.71 L366.53,226.99 L366.97,227.28 L367.40,227.56 L367.84,227.85 L368.27,228.14 L368.70,228.44 L369.13,228.73 L369.55,229.03 L369.98,229.33 L370.41,229.63 L370.83,229.93 L371.25,230.24 L371.67,230.55 L372.09,230.86 L372.50,231.18 L372.92,231.49 L373.33,231.81 L373.74,232.13 L374.15,232.46 L374.56,232.78 L374.97,233.11 L375.37,233.44 L375.78,233.77 L376.18,234.10 L376.58,234.44 L376.98,234.78 L377.37,235.12 L377.77,235.46 L378.16,235.81 L378.55,236.15 L378.94,236.50 L379.33,236.85 L379.71,237.21 L380.10,237.56 L380.48,237.92 L380.86,238.28 L381.24,238.64 L381.62,239.00 L381.99,239.36 L382.37,239.73 L382.74,240.10 L383.11,240.47 L383.48,240.84 L383.85,241.22 L384.21,241.59 L384.57,241.97 L384.93,242.35 L385.29,242.73 L385.65,243.11 L386.01,243.50 L386.36,243.88 L386.71,244.27 L387.06,244.66 L387.41,245.05 L387.76,245.45 L388.10,245.84 L388.44,246.24 L388.78,246.63 L389.12,247.03 L389.46,247.43 L389.79,247.84 L390.13,248.24 L390.46,248.65 L390.78,249.05 L391.11,249.46 L391.44,249.87 L391.76,250.28 L392.08,250.69 L392.40,251.11 L392.72,251.52 L393.03,251.94 L393.34,252.36 L393.66,252.78 L393.96,253.20 L394.27,253.62 L394.58,254.04 L394.88,254.47 L395.18,254.90 L395.48,255.32 L395.78,255.75 L396.07,256.18 L396.36,256.61 L396.65,257.04 L396.94,257.48 L397.23,257.91 L397.51,258.34 L397.80,258.78 L398.08,259.22 L398.35,259.66 L398.63,260.10 L398.90,260.54 L399.17,260.98 L399.44,261.42 L399.71,261.86 L399.98,262.31 L400.24,262.75 L400.50,263.20" fill="none" stroke="#ff0000" stroke-width="2.0" stroke-linejoin="round" stroke-linecap="square"/>
<path d="M34.50,35.48 L34.99,35.48 L35.59,35.48 L36.19,35.49 L36.79,35.49 L37.39,35.50 L37.99,35.51 L38.59,35.51 L39.19,35.52 L39.79,35.53 L40.39,35.54 L40.99,35.55 L41.59,35.56 L42.19,35.58 L42.79,35.59 L43.39,35.60 L43.99,35.62 L44.59,35.63 L45.19,35.65 L45.79,35.67 L46.39,35.69 L46.99,35.70 L47.59,35.72 L48.19,35.75 L48.79,35.77 L49.39,35.79 L49.99,35.81 L50.59,35.84 L51.19,35.86 L51.79,35.89 L52.39,35.91 L52.99,35.94 L53.59,35.97 L54.18,36.00 L54.78,36.03 L55.38,36.06 L55.98,36.09 L56.58,36.12 L57.18,36.15 L57.78,36.19 L58.37,36.22 L58.97,36.26 L59.57,36.29 L60.17,36.33 L60.77,36.37 L61.36,36.41 L61.96,36.45 L62.56,36.49 L63.16,36.53 L63.75,36.57 L64.35,36.61 L64.95,36.66 L65.55,36.70 L66.14,36.75 L66.74,36.79 L67.34,36.84 L67.93,36.89 L68.53,36.93 L69.12,36.98 L69.72,37.03 L70.32,37.09 L70.91,37.14 L71.51,37.19 L72.10,37.24 L72.70,37.30 L73.30,37.35 L73.89,37.41 L74.49,37.47 L75.08,37.52 L75.68,37.58 L76.27,37.64 L76.87,37.70 L77.46,37.77 L78.06,37.83 L78.65,37.89 L79.24,37.96 L79.84,38.02 L80.43,38.09 L81.03,38.15 L81.62,38.22 L82.21,38.29 L82.81,38.36 L83.40,38.43 L83.99,38.50 L84.59,38.58 L85.18,38.65 L85.77,38.73 L86.37,38.80 L86.96,38.88 L87.55,38.95 L88.14,39.03 L88.73,39.11 L89.33,39.19 L89.92,39.27 L90.51,39.36 L91.10,39.44 L91.69,39.52 L92.29,39.61 L92.88,39.70 L93.47,39.78 L94.06,39.87 L94.65,39.96 L95.24,40.05 L95.83,40.14 L96.42,40.24 L97.01,40.33 L97.60,40.42 L98.19,40.52 L98.78,40.62 L99.37,40.71 L99.96,40.81 L100.55,40.91 L101.14,41.01 L101.73,41.11 L102.32,41.22 L102.90,41.32 L103.49,41.43 L104.08,41.53 L104.67,41.64 L105.26,41.75 L105.84,41.86 L106.43,41.97 L107.02,42.08 L107.61,42.19 L108.19,42.30 L108.78,42.42 L109.37,42.53 L109.96,42.65 L110.54,42.77 L111.13,42.89 L111.71,43.01 L112.30,43.13 L112.89,43.25 L113.47,43.38 L114.06,43.50 L114.64,43.63 L115.23,43.75 L115.81,43.88 L116.40,44.01 L116.98,44.14 L117.57,44.27 L118.15,44.41 L118.74,44.54 L119.32,44.67 L119.90,44.81 L120.49,44.94 L121.07,45.08 L121.66,45.22 L122.24,45.36 L122.82,45.50 L123.40,45.64 L123.99,45.78 L124.57,45.93 L125.15,46.07 L125.73,46.22 L126.32,46.36 L126.90,46.51 L127.48,46.66 L128.06,46.81 L128.64,46.96 L129.22,47.11 L129.80,47.26 L130.38,47.41 L130.96,47.57 L131.54,47.72 L132.12,47.88 L132.70,48.03 L133.28,48.19 L133.86,48.35 L134.44,48.51 L135.02,48.67 L135.60,48.83 L136.18,48.99 L136.76,49.15 L137.33,49.32 L137.91,49.48 L138.49,49.65 L139.07,49.81 L139.65,49.98 L140.22,50.15 L140.80,50.31 L141.38,50.48 L141.95,50.65 L142.53,50.82 L143.11,50.99 L143.68,51.16 L144.26,51.34 L144.83,51.51 L145.41,51.68 L145.98,51.86 L146.56,52.03 L147.13,52.21 L147.71,52.39 L148.28,52.57 L148.86,52.74 L149.43,52.92 L150.00,53.10 L150.58,53.28 L151.15,53.46 L151.72,53.65 L152.30,53.83 L152.87,54.01 L153.44,54.19 L154.01,54.38 L154.59,54.56 L155.16,54.75 L155.73,54.93 L156.30,55.12 L156.87,55.31 L157.44,55.49 L158.01,55.68 L158.58,55.87 L159.15,56.06 L159.72,56.25 L160.29,56.44 L160.86,56.63 L161.43,56.82 L162.00,57.02 L162.57,57.21 L163.14,57.40 L163.70,57.60 L164.27,57.79 L164.84,57.98 L165.41,58.18 L165.97,58.37 L166.54,58.57 L167.11,58.77 L167.68,58.96 L168.24,59.16 L168.81,59.36 L169.37,59.56 L169.94,59.76 L170.50,59.96 L171.07,60.16 L171.63,60.36 L172.20,60.56 L172.76,60.76 L173.33,60.96 L173.89,61.17 L174.46,61.37 L175.02,61.57 L175.58,61.78 L176.14,61.98 L176.71,62.19 L177.27,62.40 L177.83,62.60 L178.39,62.81 L178.95,63.02 L179.52,63.22 L180.08,63.43 L180.64,63.64 L181.20,63.85 L181.76,64.06 L182.32,64.27 L182.88,64.49 L183.44,64.70 L184.00,64.91 L184.56,65.13 L185.12,65.34 L185.67,65.55 L186.23,65.77 L186.79,65.98 L187.35,66.20 L187.91,66.42 L188.46,66.64 L189.02,66.85 L189.58,67.07 L190.13,67.29 L190.69,67.51 L191.24,67.73 L191.80,67.95 L192.36,68.18 L192.91,68.40 L193.47,68.62 L194.02,68.84 L194.57,69.07 L195.13,69.29 L195.68,69.52 L196.23,69.75 L196.79,69.97 L197.34,70.20 L197.89,70.43 L198.45,70.66 L199.00,70.89 L199.55,71.12 L200.10,71.35 L200.65,71.58 L201.20,71.81 L201.75,72.04 L202.30,72.28 L202.85,72.51 L203.40,72.75 L203.95,72.98 L204.50,73.22 L205.05,73.45 L205.60,73.69 L206.15,73.93 L206.70,74.17 L207.24,74.41 L207.79,74.65 L208.34,74.89 L208.88,75.13 L209.43,75.37 L209.98,75.61 L210.52,75.86 L211.07,76.10 L211.61,76.35 L212.16,76.59 L212.70,76.84 L213.25,77.09 L213.79,77.33 L214.34,77.58 L214.88,77.83 L215.42,78.08 L215.97,78.33 L216.51,78.58 L217.05,78.84 L217.59,79.09 L218.14,79.34 L218.68,79.60 L219.22,79.85 L219.76,80.11 L220.30,80.36 L220.84,80.62 L221.38,80.88 L221.92,81.14 L222.46,81.40 L223.00,81.66 L223.54,81.92 L224.08,82.18 L224.61,82.44 L225.15,82.70 L225.69,82.97 L226.23,83.23 L226.76,83.50 L227.30,83.76 L227.84,84.03 L228.37,84.29 L228.91,84.56 L229.44,84.83 L229.98,85.10 L230.51,85.37 L231.05,85.64 L231.58,85.91 L232.12,86.18 L232.65,86.45 L233.19,86.72 L233.72,86.99 L234.25,87.27 L234.78,87.54 L235.32,87.82 L235.85,88.09 L236.38,88.37 L236.91,88.64 L237.44,88.92 L237.98,89.20 L238.51,89.48 L239.04,89.76 L239.57,90.03 L240.10,90.31 L240.63,90.60 L241.16,90.88 L241.69,91.16 L242.21,91.44 L242.74,91.72 L243.27,92.01 L243.80,92.29 L244.33,92.57 L244.85,92.86 L245.38,93.15 L245.91,93.43 L246.44,93.72 L246.96,94.01 L247.49,94.29 L248.01,94.58 L248.54,94.87 L249.07,95.16 L249.59,95.45 L250.12,95.74 L250.64,96.03 L251.17,96.32 L251.69,96.61 L252.21,96.91 L252.74,97.20 L253.26,97.49 L253.78,97.79 L254.31,98.08 L254.83,98.37 L255.35,98.67 L255.87,98.97 L256.40,99.26 L256.92,99.56 L257.44,99.86 L257.96,100.15 L258.48,100.45 L259.00,100.75 L259.52,101.05 L260.04,101.35 L260.56,101.65 L261.08,101.95 L261.60,102.25 L262.12,102.55 L262.64,102.85 L263.16,103.15 L263.67,103.46 L264.19,103.76 L264.71,104.06 L265.23,104.37 L265.75,104.67 L266.26,104.97 L266.78,105.28 L267.30,105.58 L267.81,105.89 L268.33,106.20 L268.85,106.50 L269.36,106.81 L269.88,107.12 L270.39,107.42 L270.91,107.73 L271.42,108.04 L271.94,108.35 L272.45,108.66 L272.96,108.97 L273.48,109.28 L273.99,109.59 L274.50,109.90 L275.02,110.21 L275.53,110.52 L276.04,110.84 L276.55,111.15 L277.06,111.46 L277.58,111.78 L278.09,112.09 L278.60,112.41 L279.11,112.72 L279.62,113.04 L280.13,113.35 L280.64,113.67 L281.15,113.99 L281.66,114.30 L282.16,114.62 L282.67,114.94 L283.18,115.26 L283.69,115.58 L284.20,115.90 L284.70,116.22 L285.21,116.54 L285.72,116.86 L286.22,117.18 L286.73,117.50 L287.23,117.83 L287.74,118.15 L288.24,118.47 L288.75,118.80 L289.25,119.12 L289.75,119.45 L290.26,119.78 L290.76,120.10 L291.26,120.43 L291.76,120.76 L292.26,121.09 L292.77,121.41 L293.27,121.74 L293.77,122.07 L294.27,122.40 L294.77,122.74 L295.26,123.07 L295.76,123.40 L296.26,123.73 L296.76,124.07 L297.26,124.40 L297.75,124.73 L298.25,125.07 L298.75,125.40 L299.24,125.74 L299.74,126.08 L300.23,126.42 L300.73,126.75 L301.22,127.09 L301.71,127.43 L302.21,127.77 L302.70,128.11 L303.19,128.45 L303.68,128.79 L304.18,129.14 L304.67,129.48 L305.16,129.82 L305.65,130.17 L306.14,130.51 L306.63,130.86 L307.11,131.21 L307.60,131.55 L308.09,131.90 L308.58,132.25 L309.06,132.60 L309.55,132.95 L310.03,133.30 L310.52,133.65 L311.00,134.00 L311.49,134.35 L311.97,134.70 L312.45,135.06 L312.94,135.41 L313.42,135.77 L313.90,136.12 L314.38,136.48 L314.86,136.84 L315.34,137.19 L315.82,137.55 L316.30,137.91 L316.78,138.27 L317.26,138.63 L317.73,138.99 L318.21,139.36 L318.69,139.72 L319.16,140.08 L319.64,140.45 L320.11,140.81 L320.58,141.18 L321.06,141.54 L321.53,141.91 L322.00,142.28 L322.47,142.65 L322.94,143.02 L323.42,143.39 L323.89,143.76 L324.35,144.13 L324.82,144.50 L325.29,144.88 L325.76,145.25 L326.23,145.62 L326.69,146.00 L327.16,146.38 L327.62,146.75 L328.09,147.13 L328.55,147.51 L329.01,147.89 L329.48,148.27 L329.94,148.65 L330.40,149.03 L330.86,149.42 L331.32,149.80 L331.78,150.19 L332.24,150.57 L332.70,150.96 L333.15,151.34 L333.61,151.73 L334.07,152.12 L334.52,152.51 L334.98,152.90 L335.43,153.29 L335.88,153.68 L336.34,154.08 L336.79,154.47 L337.24,154.86 L337.69,155.26 L338.14,155.66 L338.59,156.05 L339.04,156.45 L339.48,156.85 L339.93,157.25 L340.38,157.65 L340.82,158.06 L341.26,158.46 L341.70,158.86 L342.15,159.27 L342.58,159.68 L343.02,160.09 L343.46,160.50 L343.89,160.91 L344.33,161.32 L344.76,161.74 L345.19,162.15 L345.62,162.57 L346.05,162.99 L346.47,163.41 L346.90,163.83 L347.32,164.26 L347.74,164.68 L348.16,165.11 L348.57,165.54 L348.98,165.97 L349.40,166.40 L349.81,166.84 L350.21,167.28 L350.62,167.71 L351.02,168.15 L351.43,168.60 L351.83,169.04 L352.22,169.48 L352.62,169.93 L353.02,170.38 L353.41,170.83 L353.80,171.28 L354.19,171.73 L354.58,172.18 L354.97,172.64 L355.36,173.09 L355.74,173.55 L356.13,174.01 L356.51,174.46 L356.89,174.92 L357.27,175.38 L357.65,175.85 L358.03,176.31 L358.41,176.77 L358.79,177.23 L359.16,177.70 L359.54,178.16 L359.91,178.63 L360.29,179.10 L360.66,179.56 L361.04,180.03 L361.41,180.50 L361.78,180.97 L362.16,181.43 L362.53,181.90 L362.90,182.37 L363.27,182.84 L363.64,183.31 L364.02,183.78 L364.39,184.25 L364.76,184.72 L365.13,185.19 L365.50,185.66 L365.87,186.13 L366.24,186.60 L366.61,187.08 L366.98,187.55 L367.35,188.02 L367.72,188.49 L368.09,188.96 L368.46,189.44 L368.82,189.91 L369.19,190.38 L369.56,190.85 L369.93,191.33 L370.30,191.80 L370.67,192.28 L371.04,192.75 L371.40,193.22 L371.77,193.70 L372.14,194.17 L372.51,194.65 L372.87,195.12 L373.24,195.59 L373.61,196.07 L373.98,196.54 L374.34,197.02 L374.71,197.49 L375.08,197.97 L375.44,198.45 L375.81,198.92 L376.17,199.40 L376.54,199.88 L376.90,200.36 L377.26,200.83 L377.62,201.31 L377.98,201.79 L378.34,202.28 L378.70,202.76 L379.06,203.24 L379.41,203.72 L379.76,204.21 L380.12,204.69 L380.46,205.18 L380.81,205.67 L381.16,206.16 L381.50,206.65 L381.84,207.14 L382.18,207.63 L382.52,208.13 L382.86,208.62 L383.19,209.12 L383.52,209.62 L383.85,210.12 L384.17,210.62 L384.50,211.13 L384.82,211.63 L385.13,212.14 L385.45,212.65 L385.76,213.16 L386.07,213.67 L386.37,214.18 L386.68,214.70 L386.98,215.21 L387.27,215.73 L387.57,216.25 L387.86,216.77 L388.15,217.30 L388.43,217.82 L388.72,218.35 L389.00,218.87 L389.27,219.40 L389.54,219.93 L389.81,220.46 L390.08,221.00 L390.34,221.53 L390.60,222.07 L390.86,222.61 L391.11,223.15 L391.36,223.69 L391.60,224.23 L391.84,224.77 L392.08,225.32 L392.31,225.87 L392.54,226.42 L392.77,226.97 L392.99,227.52 L393.21,228.07 L393.43,228.63 L393.64,229.19 L393.85,229.75 L394.05,230.31 L394.25,230.87 L394.44,231.43 L394.63,232.00 L394.82,232.56 L395.00,233.13 L395.18,233.70 L395.36,234.27 L395.53,234.85 L395.69,235.42 L395.85,236.00 L396.01,236.57 L396.17,237.15 L396.32,237.73 L396.46,238.31 L396.61,238.90 L396.75,239.48 L396.88,240.07 L397.02,240.65 L397.15,241.24 L397.27,241.83 L397.40,242.41 L397.52,243.00 L397.64,243.59 L397.75,244.18 L397.87,244.78 L397.98,245.37 L398.08,245.96 L398.19,246.55 L398.29,247.15 L398.39,247.74 L398.49,248.34 L398.59,248.93 L398.68,249.53 L398.77,250.12 L398.86,250.72 L398.95,251.32 L399.04,251.91 L399.13,252.51 L399.21,253.11 L399.29,253.70 L399.38,254.30 L399.46,254.89 L399.53,255.49 L399.61,256.09 L399.69,256.68 L399.77,257.28 L399.84,257.87 L399.92,258.47 L399.99,259.06 L400.06,259.65 L400.14,260.25 L400.21,260.84 L400.28,261.43 L400.36,262.02 L400.43,262.61 L400.50,263.20" fill="none" stroke="#000000" stroke-width="2.0" stroke-linejoin="round" stroke-linecap="square"/>
<path d="M34.50,189.10 L34.64,189.10 L35.15,189.10 L35.65,189.10 L36.16,189.10 L36.67,189.10 L37.18,189.10 L37.69,189.10 L38.19,189.10 L38.70,189.10 L39.21,189.11 L39.72,189.11 L40.22,189.11 L40.73,189.11 L41.24,189.12 L41.75,189.12 L42.26,189.12 L42.76,189.13 L43.27,189.13 L43.78,189.13 L44.29,189.14 L44.79,189.14 L45.30,189.15 L45.81,189.15 L46.32,189.16 L46.83,189.16 L47.33,189.17 L47.84,189.17 L48.35,189.18 L48.86,189.18 L49.36,189.19 L49.87,189.20 L50.38,189.20 L50.89,189.21 L51.40,189.22 L51.90,189.22 L52.41,189.23 L52.92,189.24 L53.43,189.25 L53.93,189.25 L54.44,189.26 L54.95,189.27 L55.46,189.28 L55.97,189.29 L56.47,189.30 L56.98,189.31 L57.49,189.31 L58.00,189.32 L58.50,189.33 L59.01,189.34 L59.52,189.35 L60.03,189.37 L60.53,189.38 L61.04,189.39 L61.55,189.40 L62.06,189.41 L62.57,189.42 L63.07,189.43 L63.58,189.44 L64.09,189.46 L64.60,189.47 L65.10,189.48 L65.61,189.49 L66.12,189.51 L66.63,189.52 L67.13,189.53 L67.64,189.55 L68.15,189.56 L68.66,189.58 L69.16,189.59 L69.67,189.60 L70.18,189.62 L70.69,189.63 L71.19,189.65 L71.70,189.66 L72.21,189.68 L72.72,189.70 L73.22,189.71 L73.73,189.73 L74.24,189.74 L74.75,189.76 L75.26,189.78 L75.76,189.79 L76.27,189.81 L76.78,189.83 L77.29,189.85 L77.79,189.87 L78.30,189.88 L78.81,189.90 L79.32,189.92 L79.82,189.94 L80.33,189.96 L80.84,189.98 L81.34,190.00 L81.85,190.02 L82.36,190.03 L82.87,190.05 L83.37,190.07 L83.88,190.10 L84.39,190.12 L84.90,190.14 L85.40,190.16 L85.91,190.18 L86.42,190.20 L86.93,190.22 L87.43,190.24 L87.94,190.27 L88.45,190.29 L88.96,190.31 L89.46,190.33 L89.97,190.36 L90.48,190.38 L90.98,190.40 L91.49,190.43 L92.00,190.45 L92.51,190.47 L93.01,190.50 L93.52,190.52 L94.03,190.55 L94.54,190.57 L95.04,190.60 L95.55,190.62 L96.06,190.65 L96.56,190.67 L97.07,190.70 L97.58,190.72 L98.09,190.75 L98.59,190.78 L99.10,190.80 L99.61,190.83 L100.11,190.86 L100.62,190.88 L101.13,190.91 L101.64,190.94 L102.14,190.97 L102.65,190.99 L103.16,191.02 L103.66,191.05 L104.17,191.08 L104.68,191.11 L105.18,191.14 L105.69,191.17 L106.20,191.20 L106.71,191.23 L107.21,191.26 L107.72,191.29 L108.23,191.32 L108.73,191.35 L109.24,191.38 L109.75,191.41 L110.25,191.44 L110.76,191.47 L111.27,191.50 L111.77,191.53 L112.28,191.57 L112.79,191.60 L113.29,191.63 L113.80,191.66 L114.31,191.70 L114.81,191.73 L115.32,191.76 L115.83,191.80 L116.33,191.83 L116.84,191.86 L117.35,191.90 L117.85,191.93 L118.36,191.97 L118.87,192.00 L119.37,192.03 L119.88,192.07 L120.39,192.11 L120.89,192.14 L121.40,192.18 L121.91,192.21 L122.41,192.25 L122.92,192.28 L123.43,192.32 L123.93,192.36 L124.44,192.39 L124.95,192.43 L125.45,192.47 L125.96,192.51 L126.47,192.54 L126.97,192.58 L127.48,192.62 L127.98,192.66 L128.49,192.70 L129.00,192.74 L129.50,192.78 L130.01,192.81 L130.52,192.85 L131.02,192.89 L131.53,192.93 L132.04,192.97 L132.54,193.01 L133.05,193.05 L133.55,193.09 L134.06,193.14 L134.57,193.18 L135.07,193.22 L135.58,193.26 L136.08,193.30 L136.59,193.34 L137.10,193.39 L137.60,193.43 L138.11,193.47 L138.62,193.51 L139.12,193.56 L139.63,193.60 L140.13,193.64 L140.64,193.69 L141.14,193.73 L141.65,193.77 L142.16,193.82 L142.66,193.86 L143.17,193.91 L143.67,193.95 L144.18,194.00 L144.69,194.04 L145.19,194.09 L145.70,194.13 L146.20,194.18 L146.71,194.22 L147.21,194.27 L147.72,194.32 L148.23,194.36 L148.73,194.41 L149.24,194.46 L149.74,194.50 L150.25,194.55 L150.75,194.60 L151.26,194.65 L151.77,194.70 L152.27,194.74 L152.78,194.79 L153.28,194.84 L153.79,194.89 L154.29,194.94 L154.80,194.99 L155.30,195.04 L155.81,195.09 L156.31,195.14 L156.82,195.19 L157.33,195.24 L157.83,195.29 L158.34,195.34 L158.84,195.39 L159.35,195.44 L159.85,195.49 L160.36,195.54 L160.86,195.59 L161.37,195.65 L161.87,195.70 L162.38,195.75 L162.88,195.80 L163.39,195.86 L163.89,195.91 L164.40,195.96 L164.90,196.02 L165.41,196.07 L165.91,196.12 L166.42,196.18 L166.92,196.23 L167.43,196.29 L167.93,196.34 L168.44,196.40 L168.94,196.45 L169.45,196.51 L169.95,196.56 L170.46,196.62 L170.96,196.67 L171.47,196.73 L171.97,196.79 L172.48,196.84 L172.98,196.90 L173.48,196.95 L173.99,197.01 L174.49,197.07 L175.00,197.13 L175.50,197.18 L176.01,197.24 L176.51,197.30 L177.02,197.36 L177.52,197.42 L178.03,197.48 L178.53,197.53 L179.03,197.59 L179.54,197.65 L180.04,197.71 L180.55,197.77 L181.05,197.83 L181.56,197.89 L182.06,197.95 L182.56,198.01 L183.07,198.07 L183.57,198.13 L184.08,198.20 L184.58,198.26 L185.08,198.32 L185.59,198.38 L186.09,198.44 L186.60,198.50 L187.10,198.57 L187.60,198.63 L188.11,198.69 L188.61,198.76 L189.12,198.82 L189.62,198.88 L190.12,198.95 L190.63,199.01 L191.13,199.07 L191.64,199.14 L192.14,199.20 L192.64,199.27 L193.15,199.33 L193.65,199.40 L194.15,199.46 L194.66,199.53 L195.16,199.59 L195.66,199.66 L196.17,199.72 L196.67,199.79 L197.17,199.86 L197.68,199.92 L198.18,199.99 L198.68,200.06 L199.19,200.12 L199.69,200.19 L200.19,200.26 L200.70,200.33 L201.20,200.40 L201.70,200.46 L202.21,200.53 L202.71,200.60 L203.21,200.67 L203.72,200.74 L204.22,200.81 L204.72,200.88 L205.23,200.95 L205.73,201.02 L206.23,201.09 L206.74,201.16 L207.24,201.23 L207.74,201.30 L208.24,201.37 L208.75,201.44 L209.25,201.51 L209.75,201.58 L210.25,201.66 L210.76,201.73 L211.26,201.80 L211.76,201.87 L212.27,201.94 L212.77,202.02 L213.27,202.09 L213.77,202.16 L214.28,202.24 L214.78,202.31 L215.28,202.38 L215.78,202.46 L216.29,202.53 L216.79,202.61 L217.29,202.68 L217.79,202.76 L218.29,202.83 L218.80,202.91 L219.30,202.98 L219.80,203.06 L220.30,203.13 L220.80,203.21 L221.31,203.28 L221.81,203.36 L222.31,203.44 L222.81,203.51 L223.31,203.59 L223.82,203.67 L224.32,203.75 L224.82,203.82 L225.32,203.90 L225.82,203.98 L226.33,204.06 L226.83,204.13 L227.33,204.21 L227.83,204.29 L228.33,204.37 L228.83,204.45 L229.34,204.53 L229.84,204.61 L230.34,204.69 L230.84,204.77 L231.34,204.85 L231.84,204.93 L232.34,205.01 L232.85,205.09 L233.35,205.17 L233.85,205.25 L234.35,205.33 L234.85,205.42 L235.35,205.50 L235.85,205.58 L236.35,205.66 L236.85,205.74 L237.36,205.83 L237.86,205.91 L238.36,205.99 L238.86,206.08 L239.36,206.16 L239.86,206.24 L240.36,206.33 L240.86,206.41 L241.36,206.50 L241.86,206.58 L242.36,206.66 L242.86,206.75 L243.37,206.83 L243.87,206.92 L244.37,207.00 L244.87,207.09 L245.37,207.18 L245.87,207.26 L246.37,207.35 L246.87,207.44 L247.37,207.52 L247.87,207.61 L248.37,207.70 L248.87,207.78 L249.37,207.87 L249.87,207.96 L250.37,208.05 L250.87,208.13 L251.37,208.22 L251.87,208.31 L252.37,208.40 L252.87,208.49 L253.37,208.58 L253.87,208.67 L254.37,208.76 L254.87,208.85 L255.37,208.94 L255.87,209.03 L256.37,209.12 L256.87,209.21 L257.37,209.30 L257.87,209.39 L258.37,209.48 L258.87,209.57 L259.37,209.66 L259.87,209.75 L260.36,209.84 L260.86,209.94 L261.36,210.03 L261.86,210.12 L262.36,210.21 L262.86,210.31 L263.36,210.40 L263.86,210.49 L264.36,210.59 L264.86,210.68 L265.36,210.77 L265.86,210.87 L266.35,210.96 L266.85,211.06 L267.35,211.15 L267.85,211.25 L268.35,211.34 L268.85,211.44 L269.35,211.53 L269.85,211.63 L270.34,211.72 L270.84,211.82 L271.34,211.92 L271.84,212.01 L272.34,212.11 L272.84,212.21 L273.33,212.30 L273.83,212.40 L274.33,212.50 L274.83,212.59 L275.33,212.69 L275.83,212.79 L276.32,212.89 L276.82,212.99 L277.32,213.09 L277.82,213.18 L278.32,213.28 L278.81,213.38 L279.31,213.48 L279.81,213.58 L280.31,213.68 L280.81,213.78 L281.30,213.88 L281.80,213.98 L282.30,214.08 L282.80,214.18 L283.29,214.29 L283.79,214.39 L284.29,214.49 L284.79,214.59 L285.28,214.69 L285.78,214.79 L286.28,214.90 L286.77,215.00 L287.27,215.10 L287.77,215.20 L288.27,215.31 L288.76,215.41 L289.26,215.51 L289.76,215.62 L290.25,215.72 L290.75,215.82 L291.25,215.93 L291.75,216.03 L292.24,216.14 L292.74,216.24 L293.24,216.35 L293.73,216.45 L294.23,216.56 L294.73,216.66 L295.22,216.77 L295.72,216.88 L296.21,216.98 L296.71,217.09 L297.21,217.20 L297.70,217.30 L298.20,217.41 L298.70,217.52 L299.19,217.63 L299.69,217.73 L300.18,217.84 L300.68,217.95 L301.17,218.06 L301.67,218.17 L302.17,218.28 L302.66,218.39 L303.16,218.50 L303.65,218.62 L304.15,218.73 L304.64,218.84 L305.13,218.95 L305.63,219.07 L306.12,219.18 L306.62,219.30 L307.11,219.41 L307.61,219.53 L308.10,219.64 L308.59,219.76 L309.09,219.88 L309.58,220.00 L310.07,220.11 L310.57,220.23 L311.06,220.35 L311.55,220.47 L312.04,220.60 L312.54,220.72 L313.03,220.84 L313.52,220.96 L314.01,221.09 L314.50,221.21 L314.99,221.34 L315.48,221.46 L315.98,221.59 L316.47,221.72 L316.96,221.85 L317.45,221.98 L317.94,222.11 L318.43,222.24 L318.91,222.37 L319.40,222.51 L319.89,222.64 L320.38,222.77 L320.87,222.91 L321.36,223.05 L321.84,223.19 L322.33,223.32 L322.82,223.46 L323.31,223.60 L323.79,223.75 L324.28,223.89 L324.77,224.03 L325.25,224.18 L325.74,224.32 L326.22,224.47 L326.71,224.62 L327.19,224.77 L327.67,224.92 L328.16,225.07 L328.64,225.22 L329.12,225.37 L329.61,225.53 L330.09,225.68 L330.57,225.84 L331.05,226.00 L331.54,226.16 L332.02,226.32 L332.50,226.48 L332.98,226.64 L333.46,226.81 L333.94,226.97 L334.42,227.14 L334.90,227.31 L335.37,227.48 L335.85,227.65 L336.33,227.82 L336.81,228.00 L337.28,228.17 L337.76,228.35 L338.24,228.53 L338.71,228.71 L339.19,228.89 L339.66,229.07 L340.14,229.25 L340.61,229.44 L341.08,229.62 L341.56,229.81 L342.03,230.00 L342.50,230.19 L342.97,230.38 L343.44,230.57 L343.91,230.77 L344.38,230.96 L344.85,231.16 L345.32,231.36 L345.79,231.56 L346.26,231.76 L346.73,231.96 L347.19,232.16 L347.66,232.37 L348.13,232.57 L348.59,232.78 L349.06,232.99 L349.52,233.20 L349.98,233.41 L350.45,233.62 L350.91,233.84 L351.37,234.05 L351.83,234.27 L352.29,234.48 L352.75,234.70 L353.21,234.92 L353.67,235.14 L354.13,235.37 L354.59,235.59 L355.04,235.81 L355.50,236.04 L355.96,236.27 L356.41,236.50 L356.86,236.73 L357.32,236.96 L357.77,237.19 L358.22,237.42 L358.67,237.66 L359.13,237.89 L359.58,238.13 L360.03,238.37 L360.47,238.61 L360.92,238.85 L361.37,239.09 L361.82,239.33 L362.26,239.58 L362.71,239.82 L363.15,240.07 L363.59,240.32 L364.04,240.56 L364.48,240.81 L364.92,241.07 L365.36,241.32 L365.80,241.57 L366.24,241.82 L366.68,242.08 L367.11,242.34 L367.55,242.59 L367.99,242.85 L368.42,243.11 L368.86,243.37 L369.30,243.63 L369.73,243.89 L370.17,244.15 L370.60,244.41 L371.03,244.67 L371.47,244.93 L371.90,245.19 L372.34,245.45 L372.77,245.71 L373.20,245.97 L373.64,246.23 L374.07,246.49 L374.51,246.76 L374.94,247.02 L375.38,247.28 L375.81,247.54 L376.25,247.80 L376.68,248.06 L377.12,248.31 L377.55,248.57 L377.99,248.83 L378.43,249.09 L378.87,249.34 L379.30,249.60 L379.74,249.85 L380.18,250.11 L380.62,250.36 L381.07,250.61 L381.51,250.86 L381.95,251.11 L382.39,251.36 L382.84,251.60 L383.28,251.85 L383.73,252.09 L384.18,252.33 L384.63,252.57 L385.08,252.81 L385.52,253.05 L385.97,253.29 L386.42,253.53 L386.87,253.77 L387.32,254.01 L387.77,254.25 L388.22,254.49 L388.67,254.73 L389.11,254.97 L389.56,255.22 L390.00,255.47 L390.44,255.71 L390.88,255.96 L391.32,256.22 L391.76,256.47 L392.19,256.73 L392.62,256.99 L393.05,257.25 L393.48,257.52 L393.90,257.79 L394.32,258.07 L394.74,258.35 L395.16,258.63 L395.57,258.92 L395.97,259.21 L396.38,259.51 L396.77,259.82 L397.17,260.13 L397.56,260.44 L397.94,260.76 L398.33,261.09 L398.70,261.42 L399.07,261.77 L399.44,262.11 L399.80,262.47 L400.15,262.83 L400.50,263.20" fill="none" stroke="#8064c0" stroke-width="2.0" stroke-linejoin="round" stroke-linecap="square"/>
</g>
<path d="M322.9,208 L323.9,206.2 L324.3,208.4 Z" fill="#ff0000" stroke="#ff0000" stroke-width="0.4"/>
<rect x="34.55" y="9.5" width="365.95" height="255.3" fill="none" stroke="#333333" stroke-width="1.1"/>
<path d="M34.55,264.8 v-2.6 M34.55,9.5 v2.6 M71.14,264.8 v-2.6 M71.14,9.5 v2.6 M107.74,264.8 v-2.6 M107.74,9.5 v2.6 M144.33,264.8 v-2.6 M144.33,9.5 v2.6 M180.93,264.8 v-2.6 M180.93,9.5 v2.6 M217.52,264.8 v-2.6 M217.52,9.5 v2.6 M254.12,264.8 v-2.6 M254.12,9.5 v2.6 M290.72,264.8 v-2.6 M290.72,9.5 v2.6 M327.31,264.8 v-2.6 M327.31,9.5 v2.6 M363.90,264.8 v-2.6 M363.90,9.5 v2.6 M400.50,264.8 v-2.6 M400.50,9.5 v2.6 M34.55,264.80 h2.6 M400.5,264.80 h-2.6 M34.55,213.74 h2.6 M400.5,213.74 h-2.6 M34.55,162.68 h2.6 M400.5,162.68 h-2.6 M34.55,111.62 h2.6 M400.5,111.62 h-2.6 M34.55,60.56 h2.6 M400.5,60.56 h-2.6 M34.55,9.50 h2.6 M400.5,9.50 h-2.6" fill="none" stroke="#333333" stroke-width="1.1"/>
<g font-family="Liberation Sans, sans-serif" font-size="8.5" fill="#222">
<text x="34.55" y="276.2" text-anchor="middle">0</text>
<text x="71.14" y="276.2" text-anchor="middle">0.1</text>
<text x="107.74" y="276.2" text-anchor="middle">0.2</text>
<text x="144.33" y="276.2" text-anchor="middle">0.3</text>
<text x="180.93" y="276.2" text-anchor="middle">0.4</text>
<text x="217.52" y="276.2" text-anchor="middle">0.5</text>
<text x="254.12" y="276.2" text-anchor="middle">0.6</text>
<text x="290.72" y="276.2" text-anchor="middle">0.7</text>
<text x="327.31" y="276.2" text-anchor="middle">0.8</text>
<text x="363.90" y="276.2" text-anchor="middle">0.9</text>
<text x="400.50" y="276.2" text-anchor="middle">1</text>
<text x="30.0" y="267.80" text-anchor="end">0</text>
<text x="30.0" y="216.74" text-anchor="end">20</text>
<text x="30.0" y="165.68" text-anchor="end">40</text>
<text x="30.0" y="114.62" text-anchor="end">60</text>
<text x="30.0" y="63.56" text-anchor="end">80</text>
<text x="30.0" y="12.50" text-anchor="end">100</text>
</g>
<g font-family="Liberation Serif, serif" font-size="10.6" fill="#000">
<text x="108.2" y="37.7"><tspan font-style="italic">M</tspan><tspan font-style="italic" font-size="8" dy="2.5">P</tspan><tspan dy="-2.5"> = 5 </tspan><tspan font-style="italic">M</tspan><tspan font-style="italic" font-size="8" dy="2.5">J</tspan></text>
<text x="108.2" y="85.9"><tspan font-style="italic">M</tspan><tspan font-style="italic" font-size="8" dy="2.5">P</tspan><tspan dy="-2.5"> = 3 </tspan><tspan font-style="italic">M</tspan><tspan font-style="italic" font-size="8" dy="2.5">J</tspan></text>
<text x="108.2" y="114.2"><tspan font-style="italic">M</tspan><tspan font-style="italic" font-size="8" dy="2.5">P</tspan><tspan dy="-2.5"> = 2 </tspan><tspan font-style="italic">M</tspan><tspan font-style="italic" font-size="8" dy="2.5">J</tspan></text>
<text x="108.2" y="155.2"><tspan font-style="italic">M</tspan><tspan font-style="italic" font-size="8" dy="2.5">P</tspan><tspan dy="-2.5"> = 1 </tspan><tspan font-style="italic">M</tspan><tspan font-style="italic" font-size="8" dy="2.5">J</tspan></text>
<text x="108.2" y="185.7"><tspan font-style="italic">M</tspan><tspan font-style="italic" font-size="8" dy="2.5">P</tspan><tspan dy="-2.5"> = 0.5 </tspan><tspan font-style="italic">M</tspan><tspan font-style="italic" font-size="8" dy="2.5">J</tspan></text>
</g>
<text x="319.8" y="26.0" font-family="Liberation Serif, serif" font-size="14.3" fill="#000"><tspan font-style="italic">R</tspan><tspan font-style="italic" font-size="10.8" dy="3.9">P</tspan><tspan dy="-3.9"> = 1.0 </tspan><tspan font-style="italic">R</tspan><tspan font-style="italic" font-size="10.8" dy="3.9">J</tspan></text>
<text x="211.4" y="288.7" font-family="Liberation Serif, serif" font-style="italic" font-size="10" fill="#000">r/R</text>
<text transform="translate(10.6,159.9) rotate(-90)" font-family="Liberation Serif, serif" font-style="italic" font-size="10.7" fill="#000">c<tspan font-size="8" dy="2.4" font-style="normal">0</tspan><tspan dy="-2.4">  (km s</tspan><tspan font-size="7.5" dy="-4.4">-1</tspan><tspan dy="4.4">)</tspan></text>
</svg>
</div></body></html>
